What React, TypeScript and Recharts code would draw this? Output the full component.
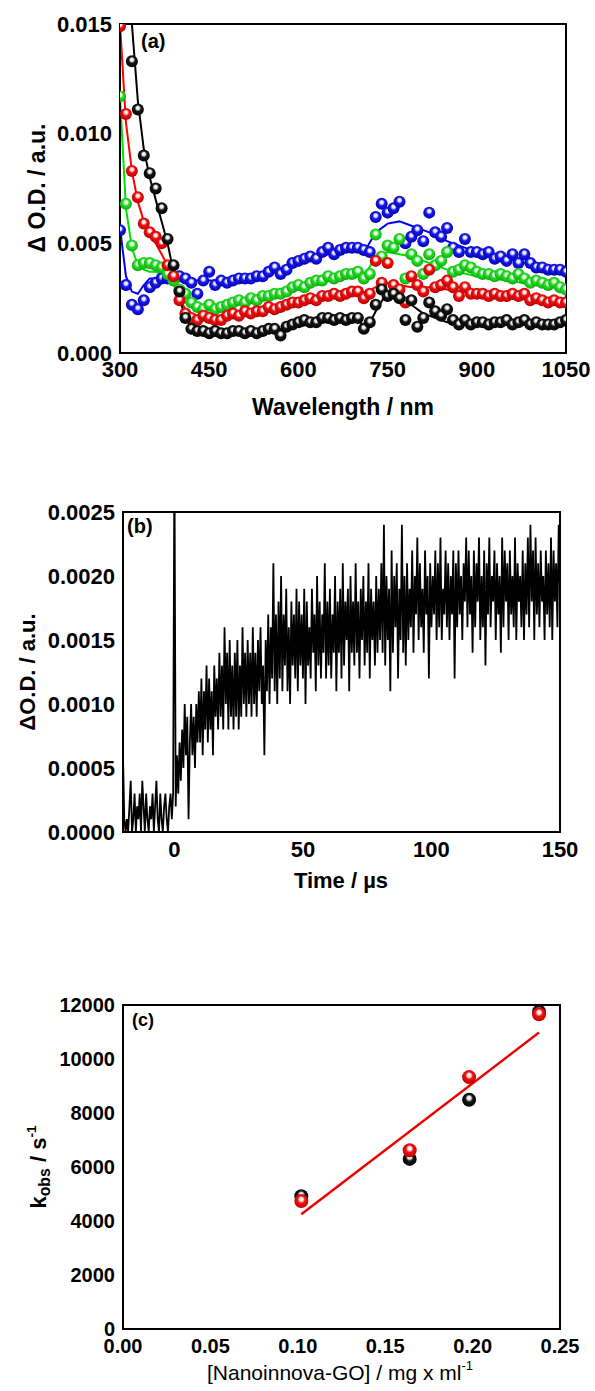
import React from 'react';
import { ComposedChart, Scatter, Line, XAxis, YAxis } from 'recharts';

const FONT = '"Liberation Sans", Arial, Helvetica, sans-serif';

// ---------- (a) transient absorption spectra ----------
const wavelengths = [
  300, 310, 320, 330, 340, 350, 360, 370, 380, 390, 400, 410, 420, 430, 440, 450, 460, 470, 480, 490,
  500, 510, 520, 530, 540, 550, 560, 570, 580, 590, 600, 610, 620, 630, 640, 650, 660, 670, 680, 690,
  700, 710, 720, 730, 740, 750, 760, 770, 780, 790, 800, 810, 820, 830, 840, 850, 860, 870, 880, 890,
  900, 910, 920, 930, 940, 950, 960, 970, 980, 990, 1000, 1010, 1020, 1030, 1040, 1050,
];
const odBlack = [
  null, null, 0.0133, 0.0111, 0.009, 0.0082, 0.0075, 0.0066, 0.0052, 0.004, 0.0028, 0.0016, 0.0011, 0.001, 0.001, 0.0009, 0.001, 0.0009, 0.0009, 0.001,
  0.001, 0.0009, 0.001, 0.0009, 0.001, 0.0011, 0.0011, 0.0008, 0.0012, 0.0013, 0.0014, 0.0015, 0.0014, 0.0014, 0.0016, 0.0016, 0.0015, 0.0016, 0.0015, 0.0016,
  0.0016, 0.0011, 0.0014, 0.0022, 0.0029, 0.0026, 0.0027, 0.0025, 0.0015, 0.0024, 0.0012, 0.0016, 0.0023, 0.0019, 0.0017, 0.002, 0.0015, 0.0013, 0.0015, 0.0013,
  0.0014, 0.0014, 0.0013, 0.0014, 0.0014, 0.0015, 0.0013, 0.0014, 0.0015, 0.0013, 0.0014, 0.0013, 0.0013, 0.0013, 0.0014, 0.0015,
];
const odRed = [
  0.0149, 0.0109, 0.0083, 0.0071, 0.0059, 0.0055, 0.0053, 0.005, 0.004, 0.0035, 0.0024, 0.0018, 0.0016, 0.0015, 0.0017, 0.0016, 0.0015, 0.0015, 0.0017, 0.0018,
  0.0017, 0.0019, 0.0018, 0.0019, 0.0019, 0.0021, 0.002, 0.0021, 0.0022, 0.0023, 0.0023, 0.0024, 0.0025, 0.0024, 0.0026, 0.0026, 0.0027, 0.0026, 0.0027, 0.0028,
  0.0028, 0.0025, 0.0027, 0.0042, 0.0032, 0.0041, 0.0031, 0.0029, 0.0023, 0.0035, 0.0031, 0.0028, 0.0038, 0.003, 0.0031, 0.0033, 0.003, 0.0026, 0.003, 0.0027,
  0.0027, 0.0027, 0.0026, 0.0027, 0.0026, 0.0026, 0.0027, 0.0026, 0.0027, 0.0024, 0.0025, 0.0024, 0.0023, 0.0024, 0.0023, 0.0023,
];
const odGreen = [
  0.0117, 0.0068, 0.0049, 0.004, 0.0041, 0.0041, 0.004, 0.0039, 0.0036, 0.0033, 0.0029, 0.0027, 0.0023, 0.0021, 0.002, 0.0022, 0.002, 0.0021, 0.0022, 0.0023,
  0.0024, 0.0023, 0.0025, 0.0024, 0.0026, 0.0026, 0.0027, 0.0027, 0.0028, 0.003, 0.0031, 0.003, 0.0032, 0.0033, 0.0033, 0.0035, 0.0034, 0.0035, 0.0036, 0.0036,
  0.0037, 0.0034, 0.0036, 0.0054, 0.0044, 0.0049, 0.0048, 0.0052, 0.0034, 0.0045, 0.0042, 0.0036, 0.0045, 0.004, 0.0042, 0.0046, 0.0037, 0.0038, 0.004, 0.0039,
  0.0037, 0.0036, 0.0036, 0.0035, 0.0036, 0.0035, 0.0034, 0.0036, 0.0034, 0.0032, 0.0033, 0.0032, 0.0031, 0.0032, 0.003, 0.0029,
];
const odBlue = [
  0.0056, 0.0031, 0.0022, 0.002, 0.0024, 0.003, 0.0032, 0.0034, 0.0034, 0.0035, 0.0035, 0.0034, 0.0032, 0.0027, 0.0033, 0.0037, 0.0031, 0.0033, 0.0032, 0.0033,
  0.0034, 0.0034, 0.0034, 0.0035, 0.0035, 0.0037, 0.0039, 0.0036, 0.0038, 0.0041, 0.0042, 0.0043, 0.0044, 0.0043, 0.0046, 0.0048, 0.0045, 0.0047, 0.0048, 0.0048,
  0.0048, 0.0047, 0.0046, 0.0062, 0.0068, 0.0064, 0.0066, 0.0069, 0.005, 0.0053, 0.0056, 0.0051, 0.0064, 0.0055, 0.0053, 0.0057, 0.0048, 0.0046, 0.0052, 0.0046,
  0.0046, 0.0045, 0.0046, 0.0043, 0.0044, 0.0042, 0.0045, 0.0041, 0.0045, 0.0041, 0.0039, 0.0039, 0.0038, 0.0038, 0.0038, 0.0037,
];
const fitWavelengths = [
  300, 310, 320, 330, 340, 350, 360, 370, 380, 390, 400, 410, 420, 430, 440, 460, 480,
  500, 550, 600, 650, 700, 715, 730, 750, 770, 790, 810, 830, 850, 900, 950, 1000, 1050,
];
const fitBlack = [
  null, 0.0192, 0.015, 0.0115, 0.0093, 0.008, 0.007, 0.006, 0.005, 0.0037, 0.0025, 0.0016, 0.0012, 0.001, 0.001, 0.0009, 0.0009,
  0.0009, 0.001, 0.0012, 0.0015, 0.0015, 0.0011, 0.0019, 0.0028, 0.0025, 0.0022, 0.0018, 0.0016, 0.0014, 0.0013, 0.0013, 0.0013, 0.0013,
];
const fitRed = [
  0.015, 0.0105, 0.0083, 0.0069, 0.006, 0.0054, 0.005, 0.0045, 0.004, 0.0033, 0.0025, 0.002, 0.0017, 0.0016, 0.0016, 0.0016, 0.0017,
  0.0018, 0.002, 0.0023, 0.0025, 0.0027, 0.0028, 0.003, 0.0032, 0.0031, 0.003, 0.003, 0.003, 0.0029, 0.0027, 0.0025, 0.0024, 0.0022,
];
const fitGreen = [
  0.0117, 0.0066, 0.0048, 0.004, 0.0038, 0.0037, 0.0037, 0.0036, 0.0035, 0.0031, 0.0027, 0.0023, 0.0021, 0.0019, 0.0019, 0.002, 0.0021,
  0.0022, 0.0026, 0.003, 0.0033, 0.0035, 0.0037, 0.0044, 0.0046, 0.0045, 0.0044, 0.0042, 0.004, 0.0038, 0.0035, 0.0033, 0.0031, 0.003,
];
const fitBlue = [
  0.0057, 0.0035, 0.0028, 0.0027, 0.0031, 0.0034, 0.0034, 0.0034, 0.0034, 0.0034, 0.0033, 0.0033, 0.0033, 0.0033, 0.0033, 0.0033, 0.0034,
  0.0035, 0.0037, 0.0041, 0.0045, 0.0047, 0.0048, 0.0055, 0.0059, 0.006, 0.0058, 0.0056, 0.0054, 0.0051, 0.0046, 0.0043, 0.004, 0.0037,
];
const wlTicks = [300, 450, 600, 750, 900, 1050];
const wlMinorTicks = [375, 525, 675, 825, 975];
const odTicks = [0, 0.005, 0.01, 0.015];
const odMinorTicks = [0.0025, 0.0075, 0.0125];

// ---------- (b) kinetic trace, sampled every 0.5 us ----------
const timeUs = [
  -20, -19.5, -19, -18.5, -18, -17.5, -17, -16.5, -16, -15.5, -15, -14.5, -14, -13.5, -13, -12.5, -12, -11.5, -11, -10.5,
  -10, -9.5, -9, -8.5, -8, -7.5, -7, -6.5, -6, -5.5, -5, -4.5, -4, -3.5, -3, -2.5, -2, -1.5, -1, -0.5,
  0, 0.5, 1, 1.5, 2, 2.5, 3, 3.5, 4, 4.5, 5, 5.5, 6, 6.5, 7, 7.5, 8, 8.5, 9, 9.5,
  10, 10.5, 11, 11.5, 12, 12.5, 13, 13.5, 14, 14.5, 15, 15.5, 16, 16.5, 17, 17.5, 18, 18.5, 19, 19.5,
  20, 20.5, 21, 21.5, 22, 22.5, 23, 23.5, 24, 24.5, 25, 25.5, 26, 26.5, 27, 27.5, 28, 28.5, 29, 29.5,
  30, 30.5, 31, 31.5, 32, 32.5, 33, 33.5, 34, 34.5, 35, 35.5, 36, 36.5, 37, 37.5, 38, 38.5, 39, 39.5,
  40, 40.5, 41, 41.5, 42, 42.5, 43, 43.5, 44, 44.5, 45, 45.5, 46, 46.5, 47, 47.5, 48, 48.5, 49, 49.5,
  50, 50.5, 51, 51.5, 52, 52.5, 53, 53.5, 54, 54.5, 55, 55.5, 56, 56.5, 57, 57.5, 58, 58.5, 59, 59.5,
  60, 60.5, 61, 61.5, 62, 62.5, 63, 63.5, 64, 64.5, 65, 65.5, 66, 66.5, 67, 67.5, 68, 68.5, 69, 69.5,
  70, 70.5, 71, 71.5, 72, 72.5, 73, 73.5, 74, 74.5, 75, 75.5, 76, 76.5, 77, 77.5, 78, 78.5, 79, 79.5,
  80, 80.5, 81, 81.5, 82, 82.5, 83, 83.5, 84, 84.5, 85, 85.5, 86, 86.5, 87, 87.5, 88, 88.5, 89, 89.5,
  90, 90.5, 91, 91.5, 92, 92.5, 93, 93.5, 94, 94.5, 95, 95.5, 96, 96.5, 97, 97.5, 98, 98.5, 99, 99.5,
  100, 100.5, 101, 101.5, 102, 102.5, 103, 103.5, 104, 104.5, 105, 105.5, 106, 106.5, 107, 107.5, 108, 108.5, 109, 109.5,
  110, 110.5, 111, 111.5, 112, 112.5, 113, 113.5, 114, 114.5, 115, 115.5, 116, 116.5, 117, 117.5, 118, 118.5, 119, 119.5,
  120, 120.5, 121, 121.5, 122, 122.5, 123, 123.5, 124, 124.5, 125, 125.5, 126, 126.5, 127, 127.5, 128, 128.5, 129, 129.5,
  130, 130.5, 131, 131.5, 132, 132.5, 133, 133.5, 134, 134.5, 135, 135.5, 136, 136.5, 137, 137.5, 138, 138.5, 139, 139.5,
  140, 140.5, 141, 141.5, 142, 142.5, 143, 143.5, 144, 144.5, 145, 145.5, 146, 146.5, 147, 147.5, 148, 148.5, 149, 149.5,
  150,
];
const traceOD = [
  0.0006, 0.0001, 0.0, 0.0001, 0.0, 0.0002, 0.0004, 0.0, 0.0001, 0.0003, 0.0, 0.0002, 0.0001, 0.0003, 0.0, 0.0004, 0.0002, 0.0, 0.0003, 0.0001,
  0.0, 0.0002, 0.0001, 0.0003, 0.0, 0.0002, 0.0004, 0.0001, 0.0, 0.0003, 0.0001, 0.0, 0.0002, 0.0003, 0.0001, 0.0, 0.0002, 0.0003, 0.0001, 0.0003,
  0.003, 0.0002, 0.0006, 0.0003, 0.0007, 0.0004, 0.0008, 0.0005, 0.001, 0.0006, 0.0009, 0.0001, 0.0007, 0.001, 0.0006, 0.0009, 0.0005, 0.001, 0.0007, 0.0011,
  0.0007, 0.0012, 0.0006, 0.0011, 0.0008, 0.0013, 0.0007, 0.0012, 0.0008, 0.0011, 0.0006, 0.0013, 0.0009, 0.0012, 0.0008, 0.0014, 0.0009, 0.0013, 0.0008, 0.0016,
  0.001, 0.0014, 0.0008, 0.0015, 0.0009, 0.0013, 0.0008, 0.0014, 0.0009, 0.0015, 0.0008, 0.0013, 0.0009, 0.0016, 0.001, 0.0014, 0.0009, 0.0015, 0.001, 0.0014,
  0.0009, 0.0016, 0.001, 0.0014, 0.0009, 0.0015, 0.0011, 0.0016, 0.001, 0.0013, 0.0006, 0.0015, 0.0011, 0.0017, 0.001, 0.0016, 0.0012, 0.0021, 0.0011, 0.0017,
  0.001, 0.0018, 0.0012, 0.002, 0.0011, 0.0017, 0.0013, 0.0019, 0.0011, 0.0016, 0.001, 0.0018, 0.0013, 0.0017, 0.0012, 0.0019, 0.0011, 0.0018, 0.0013, 0.0017,
  0.0012, 0.0019, 0.001, 0.0018, 0.0013, 0.0016, 0.0012, 0.0019, 0.0014, 0.0017, 0.0011, 0.002, 0.0013, 0.0018, 0.0012, 0.0017, 0.0014, 0.0021, 0.0012, 0.0018,
  0.0013, 0.0019, 0.0012, 0.0017, 0.0014, 0.002, 0.0011, 0.0018, 0.0014, 0.0019, 0.0012, 0.0021, 0.0013, 0.0018, 0.0015, 0.0019, 0.0011, 0.002, 0.0014, 0.0018,
  0.0013, 0.0021, 0.0014, 0.0018, 0.0012, 0.0019, 0.0015, 0.002, 0.0013, 0.0018, 0.0014, 0.0021, 0.0012, 0.0019, 0.0015, 0.0018, 0.0013, 0.002, 0.0014, 0.0019,
  0.0015, 0.0021, 0.0014, 0.0024, 0.0013, 0.002, 0.0015, 0.0019, 0.0011, 0.0022, 0.0014, 0.002, 0.0016, 0.0021, 0.0012, 0.0019, 0.0015, 0.0024, 0.0014, 0.002,
  0.0013, 0.0021, 0.0015, 0.0019, 0.0016, 0.0022, 0.0014, 0.002, 0.0017, 0.0023, 0.0015, 0.0021, 0.0016, 0.0019, 0.0014, 0.0022, 0.0017, 0.002, 0.0012, 0.0021,
  0.0016, 0.002, 0.0017, 0.0022, 0.0015, 0.0021, 0.0016, 0.0023, 0.0015, 0.0019, 0.0017, 0.0022, 0.0016, 0.0021, 0.0015, 0.002, 0.0017, 0.0022, 0.0012, 0.0021,
  0.0016, 0.0022, 0.0017, 0.002, 0.0015, 0.0021, 0.0018, 0.0023, 0.0016, 0.0022, 0.0017, 0.002, 0.0014, 0.0022, 0.0016, 0.0021, 0.0018, 0.0023, 0.0015, 0.002,
  0.0016, 0.0022, 0.0013, 0.0021, 0.0017, 0.0023, 0.0016, 0.002, 0.0018, 0.0022, 0.0015, 0.0021, 0.0017, 0.002, 0.0014, 0.0023, 0.0016, 0.0022, 0.0018, 0.0021,
  0.0015, 0.0022, 0.0017, 0.002, 0.0016, 0.0023, 0.0015, 0.0021, 0.0018, 0.002, 0.0016, 0.0022, 0.0015, 0.0021, 0.0017, 0.0023, 0.0016, 0.0024, 0.0018, 0.0022,
  0.0015, 0.0023, 0.0017, 0.0021, 0.0016, 0.0022, 0.0018, 0.002, 0.0015, 0.0022, 0.0017, 0.0021, 0.0016, 0.0023, 0.0015, 0.0022, 0.0018, 0.0021, 0.0016, 0.0024,
  0.0019,
];
const timeTicks = [0, 50, 100, 150];
const timeMinorTicks = [25, 75, 125];
const traceTicks = [0, 0.0005, 0.001, 0.0015, 0.002, 0.0025];
const traceMinorTicks = [0.00025, 0.00075, 0.00125, 0.00175, 0.00225];

// ---------- (c) kobs vs GO concentration ----------
const goConc = [0.102, 0.164, 0.198, 0.238];
const kobsBlack = [4920, 6300, 8490, 11750];
const kobsRed = [4740, 6620, 9330, 11660];
const fitConc = [0.102, 0.238];
const fitKobs = [4250, 10980];
const concTicks = [0, 0.05, 0.1, 0.15, 0.2, 0.25];
const concMinorTicks = [0.025, 0.075, 0.125, 0.175, 0.225];
const kTicks = [0, 2000, 4000, 6000, 8000, 10000, 12000];
const kMinorTicks = [1000, 3000, 5000, 7000, 9000, 11000];

const pts = (xs: number[], ys: (number | null)[]) =>
  xs.map((x, i) => ({ x, y: ys[i] })).filter((p) => p.y !== null && p.y !== undefined);

const BALL: Record<string, [string, string, string]> = {
  black: ['#e6e6e6', '#151515', '#000000'],
  red: ['#ffe0e0', '#f01010', '#b00000'],
  green: ['#eaffea', '#25e025', '#0f9c0f'],
  blue: ['#e0e0ff', '#1818f0', '#0000a0'],
};

const ball = (name: string, r: number) => (props: any) => {
  const { cx, cy } = props;
  if (cx == null || cy == null) return <g />;
  const [hi, mid, edge] = BALL[name];
  const id = `ball-${name}`;
  return (
    <g>
      <defs>
        <radialGradient id={id} cx="50%" cy="45%" r="60%" fx="50%" fy="35%">
          <stop offset="0%" stopColor="#ffffff" />
          <stop offset="22%" stopColor={hi} />
          <stop offset="45%" stopColor={mid} />
          <stop offset="100%" stopColor={edge} />
        </radialGradient>
      </defs>
      <circle cx={cx} cy={cy} r={r} fill={`url(#${id})`} />
    </g>
  );
};

const tickLine = { stroke: '#000', strokeWidth: 1.6 };
const frameLine = { stroke: '#000', strokeWidth: 2, strokeLinecap: 'square' as const };

// inward ticks on all four sides; mirror axes take no room in the layout
function frameAxes(xd: number[], yd: number[], xMaj: number[], xMin: number[], yMaj: number[], yMin: number[]) {
  const c = { type: 'number' as const, allowDataOverflow: true, interval: 0 as const, tick: false, mirror: true };
  return [
    <XAxis key="xbM" xAxisId="xbM" orientation="bottom" height={1} domain={xd} ticks={xMaj} tickSize={7} axisLine={frameLine} tickLine={tickLine} {...c} />,
    <XAxis key="xbm" xAxisId="xbm" orientation="bottom" height={1} domain={xd} ticks={xMin} tickSize={4} axisLine={false} tickLine={tickLine} {...c} />,
    <XAxis key="xtM" xAxisId="xtM" orientation="top" height={1} domain={xd} ticks={xMaj} tickSize={7} axisLine={frameLine} tickLine={tickLine} {...c} />,
    <XAxis key="xtm" xAxisId="xtm" orientation="top" height={1} domain={xd} ticks={xMin} tickSize={4} axisLine={false} tickLine={tickLine} {...c} />,
    <YAxis key="ylM" yAxisId="ylM" orientation="left" width={1} domain={yd} ticks={yMaj} tickSize={7} axisLine={frameLine} tickLine={tickLine} {...c} />,
    <YAxis key="ylm" yAxisId="ylm" orientation="left" width={1} domain={yd} ticks={yMin} tickSize={4} axisLine={false} tickLine={tickLine} {...c} />,
    <YAxis key="yrM" yAxisId="yrM" orientation="right" width={1} domain={yd} ticks={yMaj} tickSize={7} axisLine={frameLine} tickLine={tickLine} {...c} />,
    <YAxis key="yrm" yAxisId="yrm" orientation="right" width={1} domain={yd} ticks={yMin} tickSize={4} axisLine={false} tickLine={tickLine} {...c} />,
  ];
}

const tickFont = (size: number) => ({ fill: '#000', fontSize: size, fontWeight: 700, fontFamily: FONT });

function Txt({ x, base, size, bold = true, center = true, children }: any) {
  return (
    <div
      style={{
        position: 'absolute',
        left: x,
        top: base - 0.8465 * size,
        fontSize: size,
        lineHeight: `${size}px`,
        fontWeight: bold ? 700 : 400,
        fontFamily: FONT,
        whiteSpace: 'nowrap',
        transform: center ? 'translateX(-50%)' : undefined,
        color: '#000',
      }}
    >
      {children}
    </div>
  );
}

function RotTxt({ cx, cy, size, children }: any) {
  return (
    <div
      style={{
        position: 'absolute',
        left: cx,
        top: cy,
        fontSize: size,
        lineHeight: `${size}px`,
        fontWeight: 700,
        fontFamily: FONT,
        whiteSpace: 'nowrap',
        transform: 'translate(-50%, -50%) rotate(-90deg)',
        color: '#000',
      }}
    >
      {children}
    </div>
  );
}

const sub = { fontSize: '0.72em', verticalAlign: '-0.25em', lineHeight: 0 };
const sup = { fontSize: '0.62em', verticalAlign: '0.75em', lineHeight: 0 };

export default function App() {
  return (
    <div style={{ position: 'absolute', left: 0, top: 0, width: 595, height: 1391, background: '#fff', overflow: 'hidden' }}>
      {/* (a) */}
      <div style={{ position: 'absolute', left: 0, top: 0 }}>
        <ComposedChart width={595} height={430} margin={{ top: 24, right: 29, bottom: 0, left: 0 }}>
          <XAxis xAxisId="x" dataKey="x" type="number" domain={[300, 1050]} allowDataOverflow ticks={wlTicks} interval={0}
            tickLine={false} axisLine={false} tickSize={0} tickMargin={8} height={77} tick={tickFont(22)} />
          <YAxis yAxisId="y" dataKey="y" type="number" domain={[0, 0.015]} allowDataOverflow ticks={odTicks} interval={0}
            tickLine={false} axisLine={false} tickSize={0} tickMargin={8} width={120} tick={tickFont(22)}
            tickFormatter={(v: number) => v.toFixed(3)} />
          {frameAxes([300, 1050], [0, 0.015], wlTicks, wlMinorTicks, odTicks, odMinorTicks)}
          <Scatter xAxisId="x" yAxisId="y" data={pts(wavelengths, odBlue)} dataKey="y" shape={ball('blue', 6)} isAnimationActive={false} />
          <Scatter xAxisId="x" yAxisId="y" data={pts(wavelengths, odGreen)} dataKey="y" shape={ball('green', 6)} isAnimationActive={false} />
          <Scatter xAxisId="x" yAxisId="y" data={pts(wavelengths, odRed)} dataKey="y" shape={ball('red', 6)} isAnimationActive={false} />
          <Scatter xAxisId="x" yAxisId="y" data={pts(wavelengths, odBlack)} dataKey="y" shape={ball('black', 6)} isAnimationActive={false} />
          <Line xAxisId="x" yAxisId="y" data={pts(fitWavelengths, fitBlue)} dataKey="y" type="linear" stroke="#0000ff" strokeWidth={2} dot={false} isAnimationActive={false} />
          <Line xAxisId="x" yAxisId="y" data={pts(fitWavelengths, fitGreen)} dataKey="y" type="linear" stroke="#00e000" strokeWidth={2} dot={false} isAnimationActive={false} />
          <Line xAxisId="x" yAxisId="y" data={pts(fitWavelengths, fitRed)} dataKey="y" type="linear" stroke="#ff0000" strokeWidth={2} dot={false} isAnimationActive={false} />
          <Line xAxisId="x" yAxisId="y" data={pts(fitWavelengths, fitBlack)} dataKey="y" type="linear" stroke="#000000" strokeWidth={2} dot={false} isAnimationActive={false} />
        </ComposedChart>
      </div>
      <Txt x={141} base={48} size={20} center={false}>(a)</Txt>
      <RotTxt cx={37} cy={188} size={23}>Δ O.D. / a.u.</RotTxt>
      <Txt x={343} base={415} size={23}>Wavelength / nm</Txt>

      {/* (b) */}
      <div style={{ position: 'absolute', left: 0, top: 460 }}>
        <ComposedChart width={595} height={440} margin={{ top: 52, right: 35, bottom: 0, left: 0 }}>
          <XAxis xAxisId="x" dataKey="x" type="number" domain={[-20, 150]} allowDataOverflow ticks={timeTicks} interval={0}
            tickLine={false} axisLine={false} tickSize={0} tickMargin={9} height={68} tick={tickFont(22)} />
          <YAxis yAxisId="y" dataKey="y" type="number" domain={[0, 0.0025]} allowDataOverflow ticks={traceTicks} interval={0}
            tickLine={false} axisLine={false} tickSize={0} tickMargin={8} width={123} tick={tickFont(22)}
            tickFormatter={(v: number) => v.toFixed(4)} />
          {frameAxes([-20, 150], [0, 0.0025], timeTicks, timeMinorTicks, traceTicks, traceMinorTicks)}
          <Line xAxisId="x" yAxisId="y" data={pts(timeUs, traceOD)} dataKey="y" type="linear" stroke="#000" strokeWidth={1.8} dot={false} isAnimationActive={false} />
        </ComposedChart>
      </div>
      <Txt x={127} base={533} size={20} center={false}>(b)</Txt>
      <RotTxt cx={28} cy={672} size={22}>ΔO.D. / a.u.</RotTxt>
      <Txt x={341} base={889} size={22}>Time / µs</Txt>

      {/* (c) */}
      <div style={{ position: 'absolute', left: 0, top: 950 }}>
        <ComposedChart width={595} height={441} margin={{ top: 55, right: 35, bottom: 0, left: 0 }}>
          <XAxis xAxisId="x" dataKey="x" type="number" domain={[0, 0.25]} allowDataOverflow ticks={concTicks} interval={0}
            tickLine={false} axisLine={false} tickSize={0} tickMargin={10} height={62} tick={tickFont(20)}
            tickFormatter={(v: number) => v.toFixed(2)} />
          <YAxis yAxisId="y" dataKey="y" type="number" domain={[0, 12000]} allowDataOverflow ticks={kTicks} interval={0}
            tickLine={false} axisLine={false} tickSize={0} tickMargin={8} width={123} tick={tickFont(20)} />
          {frameAxes([0, 0.25], [0, 12000], concTicks, concMinorTicks, kTicks, kMinorTicks)}
          <Scatter xAxisId="x" yAxisId="y" data={pts(goConc, kobsBlack)} dataKey="y" shape={ball('black', 7)} isAnimationActive={false} />
          <Scatter xAxisId="x" yAxisId="y" data={pts(goConc, kobsRed)} dataKey="y" shape={ball('red', 7)} isAnimationActive={false} />
          <Line xAxisId="x" yAxisId="y" data={pts(fitConc, fitKobs)} dataKey="y" type="linear" stroke="#ee0000" strokeWidth={2.5} dot={false} isAnimationActive={false} />
        </ComposedChart>
      </div>
      <Txt x={132} base={1026} size={18} center={false}>(c)</Txt>
      <RotTxt cx={39} cy={1167} size={22}>
        k<span style={sub}>obs</span> / s<span style={sup}>-1</span>
      </RotTxt>
      <Txt x={340} base={1380} size={21} bold={false}>
        [Nanoinnova-GO] / mg x ml<span style={sup}>-1</span>
      </Txt>
    </div>
  );
}
